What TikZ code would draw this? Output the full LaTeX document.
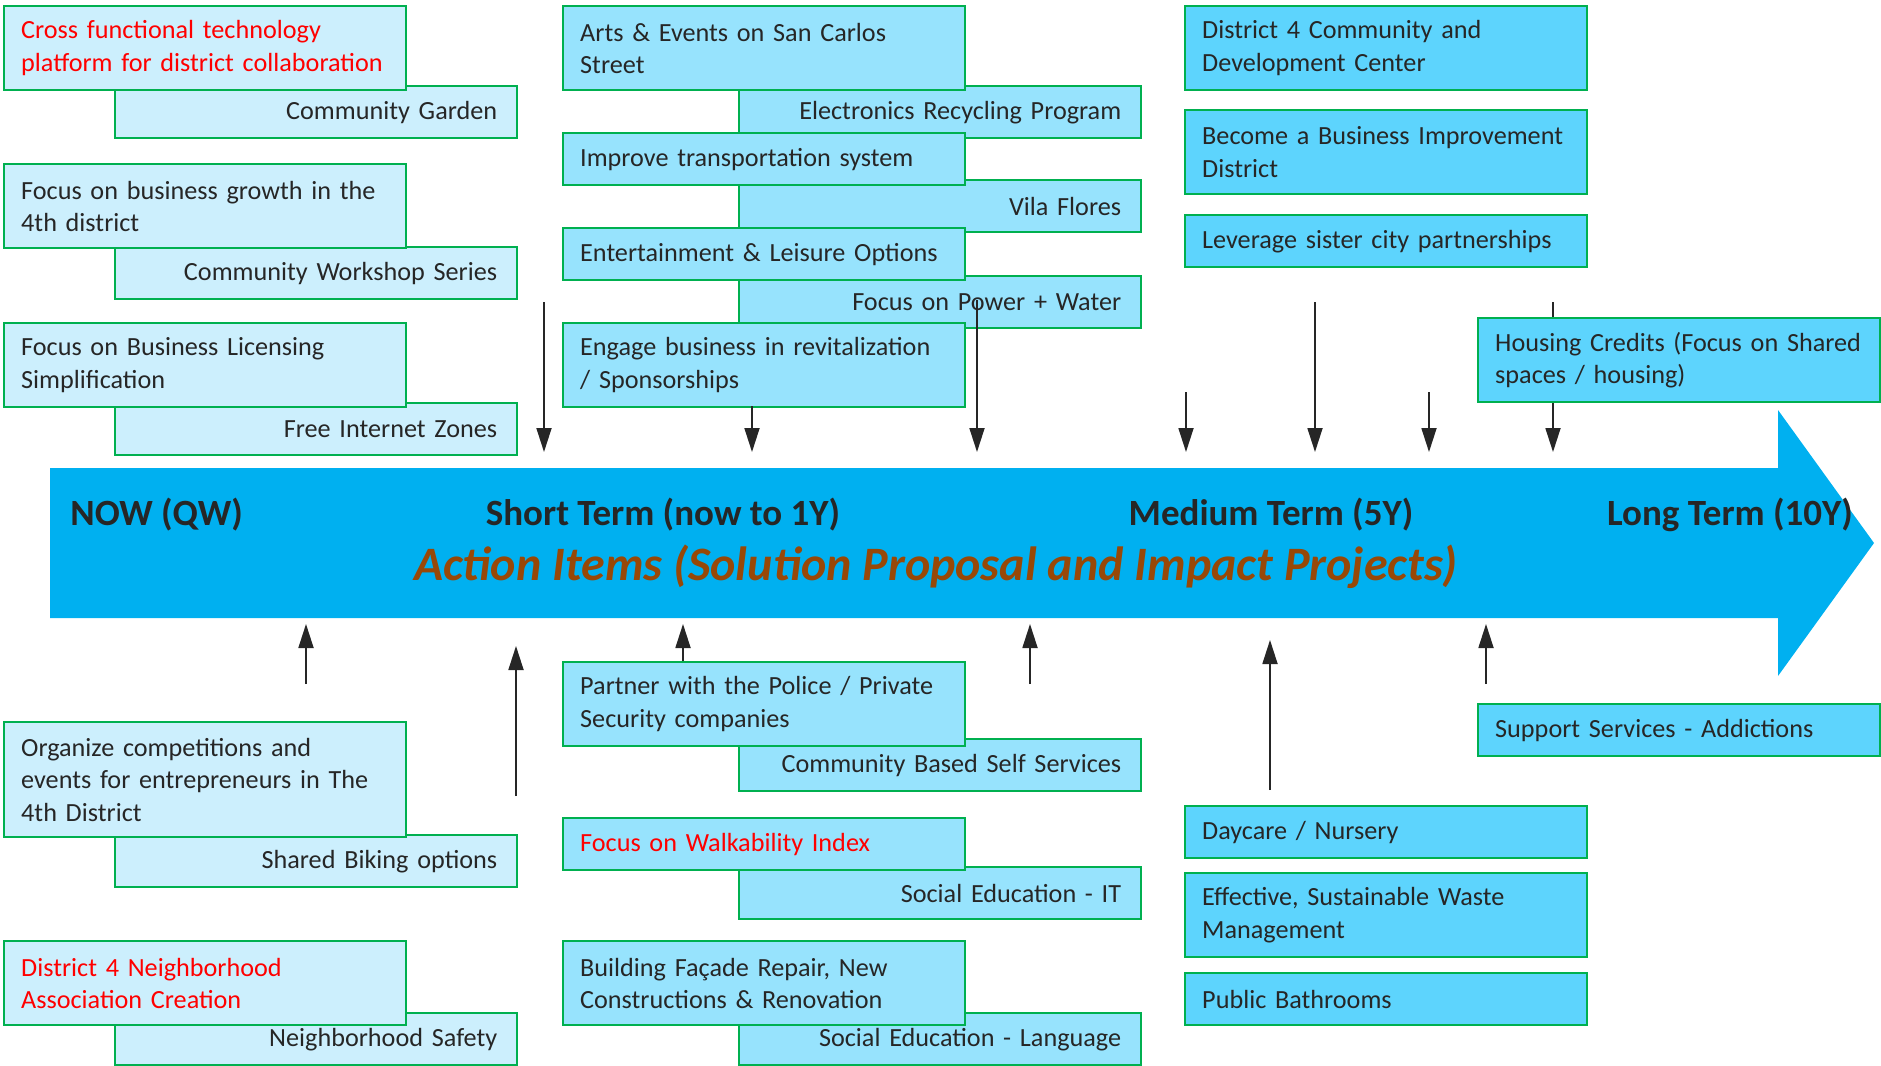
\documentclass[tikz,border=0pt]{standalone}
\usepackage{fontspec}
\setmainfont{Carlito}
\usepackage{xcolor}
\usetikzlibrary{arrows.meta}
\definecolor{boxline}{HTML}{00B050}
\definecolor{paleblue}{HTML}{CCEFFD}
\definecolor{midblue}{HTML}{97E3FD}
\definecolor{skyblue}{HTML}{5DD4FD}
\definecolor{barblue}{HTML}{00B0F0}
\definecolor{ink}{HTML}{262626}
\definecolor{rust}{HTML}{984807}
\definecolor{alert}{HTML}{FF0000}

\begin{document}
\begin{tikzpicture}[x=0.5pt,y=-0.5pt]
\tikzset{it/.style={draw=boxline, line width=1.2pt, text=ink, anchor=north west, inner xsep=8.5pt, inner ysep=0pt, text width=184pt, align=left, font=\fontsize{13.1}{16.2}\selectfont},
  rt/.style={it, align=right, inner xsep=10pt, text width=181pt},
  pale/.style={fill=paleblue}, mid/.style={fill=midblue}, sky/.style={fill=skyblue},
  hot/.style={text=alert},
  h1/.style={minimum height=26pt}, h2/.style={minimum height=42pt}, h3/.style={minimum height=57.5pt},
  term/.style={text=ink, inner sep=0pt, font=\fontsize{18.5}{22}\selectfont\bfseries},
  pin/.style={draw=ink, line width=0.9pt, -{Triangle[length=12pt,width=7.5pt]}}}
\useasboundingbox (0,0) rectangle (1881,1066);

\fill[barblue] (50,468) -- (1778,468) -- (1778,410) -- (1874,543) -- (1778,676) -- (1778,618) -- (50,618) -- cycle;
\node[term, anchor=west] (now) at (70,515) {NOW (QW)};
\node[term] (short) at (663,515) {Short Term (now to 1Y)};
\node[term] (medium) at (1271,515) {Medium Term (5Y)};
\node[term] (long) at (1730,515) {Long Term (10Y)};
\node[text=rust, font=\fontsize{24}{29}\selectfont\bfseries\itshape] (action) at (936,567) {Action Items (Solution Proposal and Impact Projects)};

\coordinate (hi) at (0,452);
\coordinate (lo) at (0,624);
\coordinate (d7) at (1553,302);
\draw[pin] (d7) -- (d7 |- hi);

\node[rt,pale,h1] (garden) at (114,85) {Community Garden};
\node[rt,pale,h1] (workshop) at (114,246) {Community Workshop Series};
\node[rt,pale,h1] (internet) at (114,402) {Free Internet Zones};
\node[it,pale,hot,h2] (crossfn) at (3,5) {Cross functional technology\\platform for district collaboration};
\node[it,pale,h2] (growth) at (3,163) {Focus on business growth in the\\4th district};
\node[it,pale,h2] (licensing) at (3,322) {Focus on Business Licensing\\Simplification};

\node[rt,mid,h1] (recycling) at (738,85) {Electronics Recycling Program};
\node[rt,mid,h1] (vila) at (738,179) {Vila Flores};
\node[rt,mid,h1] (power) at (738,275) {Focus on Power + Water};
\node[it,mid,h2] (arts) at (562,5) {Arts \& Events on San Carlos\\Street};
\node[it,mid,h1] (transport) at (562,132) {Improve transportation system};
\node[it,mid,h1] (leisure) at (562,227) {Entertainment \& Leisure Options};
\node[it,mid,h2] (engage) at (562,322) {Engage business in revitalization\\/ Sponsorships};

\coordinate (d1) at (544,302);
\coordinate (d2) at (752,406);
\coordinate (d3) at (977,300);
\coordinate (d4) at (1186,392);
\coordinate (d5) at (1315,302);
\coordinate (d6) at (1429,392);
\draw[pin] (d1) -- (d1 |- hi);
\draw[pin] (d2) -- (d2 |- hi);
\draw[pin] (d3) -- (d3 |- hi);
\draw[pin] (d4) -- (d4 |- hi);
\draw[pin] (d5) -- (d5 |- hi);
\draw[pin] (d6) -- (d6 |- hi);

\node[it,sky,h2] (center) at (1184,5) {District 4 Community and\\Development Center};
\node[it,sky,h2] (bid) at (1184,109) {Become a Business Improvement\\District};
\node[it,sky,h1] (sister) at (1184,214) {Leverage sister city partnerships};
\node[it,sky,h2] (housing) at (1477,317) {Housing Credits (Focus on Shared\\spaces / housing)};

\node[rt,pale,h1] (biking) at (114,834) {Shared Biking options};
\node[rt,pale,h1] (safety) at (114,1012) {Neighborhood Safety};
\node[it,pale,h3] (compete) at (3,721) {Organize competitions and\\events for entrepreneurs in The\\4th District};
\node[it,pale,hot,h2] (assoc) at (3,940) {District 4 Neighborhood\\Association Creation};

\node[rt,mid,h1] (selfserv) at (738,738) {Community Based Self Services};
\node[rt,mid,h1] (eduit) at (738,866) {Social Education - IT};
\node[rt,mid,h1] (edulang) at (738,1012) {Social Education - Language};
\node[it,mid,h2] (police) at (562,661) {Partner with the Police / Private\\Security companies};
\node[it,mid,hot,h1] (walk) at (562,817) {Focus on Walkability Index};
\node[it,mid,h2] (facade) at (562,940) {Building Façade Repair, New\\Constructions \& Renovation};

\node[it,sky,h1] (daycare) at (1184,805) {Daycare / Nursery};
\node[it,sky,h2] (waste) at (1184,872) {Effective, Sustainable Waste\\Management};
\node[it,sky,h1] (bathroom) at (1184,972) {Public Bathrooms};
\node[it,sky,h1] (addict) at (1477,703) {Support Services - Addictions};

\coordinate (u1) at (306,684);
\coordinate (u2) at (516,796);
\coordinate (u3) at (683,661);
\coordinate (u4) at (1030,684);
\coordinate (u5) at (1270,790);
\coordinate (u6) at (1486,684);
\draw[pin] (u1) -- (u1 |- lo);
\draw[pin] (u2) -- (516,646);
\draw[pin] (u3) -- (u3 |- lo);
\draw[pin] (u4) -- (u4 |- lo);
\draw[pin] (u5) -- (1270,640);
\draw[pin] (u6) -- (u6 |- lo);
\end{tikzpicture}
\end{document}
